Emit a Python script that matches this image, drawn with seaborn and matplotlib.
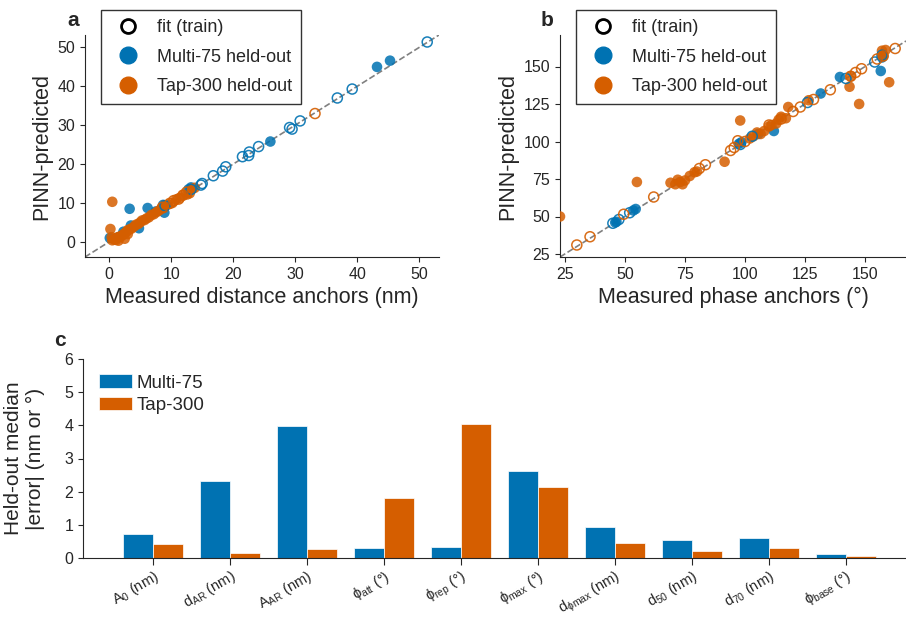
import pandas as pd
import matplotlib.pyplot as plt
import seaborn as sns
from matplotlib.lines import Line2D

BLUE = '#0072B2'
ORANGE = '#D55E00'

# ---- panel a : distance anchors (nm) ----
a_fit_multi_x = [51.3, 39.2, 36.8, 30.8, 29.5, 29.1, 24.1, 22.6, 22.5, 21.5, 18.8, 18.3, 16.8, 15.0, 14.8, 13.2, 9.0]
a_fit_multi_y = [51.4, 39.3, 37.0, 31.1, 29.0, 29.4, 24.5, 23.1, 22.2, 21.9, 19.3, 18.2, 17.0, 15.0, 14.6, 13.5, 9.3]
a_fit_tap_x = [33.2, 8.6, 9.8, 10.4, 11.2, 11.9, 12.5]
a_fit_tap_y = [33.0, 8.9, 9.9, 10.6, 11.0, 12.0, 12.8]
a_ho_multi_x = [43.2, 45.3, 26.0, 0.1, 3.3, 6.2, 8.7, 8.9, 4.8, 3.5, 12.8, 13.2, 1.5, 2.3, 7.5]
a_ho_multi_y = [45.0, 46.6, 25.8, 1.0, 8.5, 8.7, 9.5, 7.5, 3.5, 4.2, 13.5, 14.0, 1.2, 2.6, 7.8]
a_ho_tap_x = [0.5, 0.2, 0.5, 0.8, 1.0, 1.3, 1.6, 2.0, 2.2, 2.5, 2.8, 3.0, 3.3, 3.6, 4.0, 4.3, 4.7,
              5.0, 5.3, 5.7, 6.0, 6.4, 6.8, 7.2, 7.6, 8.0, 8.4, 8.8, 9.5, 10.2, 10.8, 11.4, 12.0,
              12.6, 13.0, 13.4, 13.8, 1.5, 2.5, 3.0, 0.4, 1.1]
a_ho_tap_y = [10.3, 3.3, 0.4, 0.6, 0.9, 1.1, 1.3, 1.5, 1.8, 2.2, 2.6, 3.0, 3.2, 3.4, 3.9, 4.4, 4.6,
              5.0, 5.5, 5.6, 6.0, 6.3, 6.9, 7.1, 7.6, 8.0, 8.5, 8.7, 9.6, 10.0, 10.9, 11.3, 12.1,
              12.2, 12.5, 13.6, 13.9, 0.3, 0.8, 2.0, 1.2, 0.5]

# ---- panel b : phase anchors (deg) ----
b_fit_multi_x = [45.0, 47.5, 52.0, 126.0, 142.0, 154.0, 157.0, 103.0, 98.0]
b_fit_multi_y = [45.5, 48.0, 52.5, 126.0, 142.0, 153.0, 157.5, 103.5, 98.0]
b_fit_tap_x = [30.0, 35.5, 49.5, 62.0, 83.5, 81.0, 94.0, 95.5, 97.0, 100.0, 120.0, 123.0, 128.5,
               135.5, 144.0, 146.0, 148.5, 155.0, 157.5, 162.5, 110.0, 115.0]
b_fit_tap_y = [31.0, 36.5, 51.5, 63.0, 84.5, 82.0, 94.0, 96.0, 100.5, 100.0, 120.0, 123.0, 128.0,
               134.5, 143.5, 146.0, 148.5, 155.0, 157.0, 162.0, 111.0, 115.0]
b_ho_multi_x = [46.0, 46.5, 53.5, 54.5, 97.5, 98.5, 105.5, 112.0, 131.5, 139.5, 156.5, 157.0]
b_ho_multi_y = [46.0, 46.5, 54.0, 55.0, 98.5, 99.5, 105.0, 107.0, 132.0, 143.0, 147.0, 156.0]
b_ho_tap_x = [23.0, 55.0, 69.0, 71.0, 72.0, 73.0, 74.0, 75.0, 77.0, 79.0, 80.0, 91.5, 98.0, 102.0,
              103.5, 105.0, 106.5, 108.0, 110.0, 111.0, 113.0, 114.0, 115.0, 117.0, 118.0, 126.5,
              143.5, 144.0, 147.5, 157.0, 158.5, 160.0, 157.5]
b_ho_tap_y = [50.0, 73.0, 72.5, 71.5, 74.5, 73.0, 71.5, 74.0, 77.0, 79.5, 80.0, 86.5, 114.0, 102.0,
              103.5, 106.0, 105.0, 107.0, 110.0, 111.0, 112.0, 114.5, 116.5, 115.5, 123.0, 127.5,
              136.5, 143.5, 125.0, 160.5, 161.0, 139.5, 157.0]

# ---- panel c : held-out median |error| ----
params = [r'$A_0$ (nm)', r'$d_{AR}$ (nm)', r'$A_{AR}$ (nm)', r'$\phi_{att}$ (°)', r'$\phi_{rep}$ (°)',
          r'$\phi_{max}$ (°)', r'$d_{\phi max}$ (nm)', r'$d_{50}$ (nm)', r'$d_{70}$ (nm)', r'$\phi_{base}$ (°)']
err_multi = [0.72, 2.32, 3.99, 0.30, 0.34, 2.61, 0.94, 0.55, 0.60, 0.12]
err_tap = [0.42, 0.15, 0.27, 1.82, 4.03, 2.13, 0.45, 0.22, 0.30, 0.07]

sns.set_style('ticks')
plt.rcParams['font.family'] = ['Liberation Sans', 'DejaVu Sans']
plt.rcParams['mathtext.default'] = 'regular'

fig = plt.figure(figsize=(9.06, 6.22), dpi=100)
W, H = 906, 622


def box(l, t, r, b):
    return [l / W, 1 - b / H, (r - l) / W, (b - t) / H]


ax_a = fig.add_axes(box(85, 35, 439, 257))
ax_b = fig.add_axes(box(560, 35, 906, 257))
ax_c = fig.add_axes(box(83, 359, 906, 558))


def scatter_panel(ax, fm, ft, hm, ht, lims):
    ax.axline((lims[0], lims[0]), slope=1, color='gray', ls='--', lw=1.2, zorder=1)
    for (x, y), col in ((hm, BLUE), (ht, ORANGE)):
        sns.scatterplot(x=x, y=y, ax=ax, color=col, s=58, alpha=0.85, edgecolor='none', zorder=3)
    for (x, y), col in ((fm, BLUE), (ft, ORANGE)):
        sns.scatterplot(x=x, y=y, ax=ax, facecolor='none', edgecolor=col, color=col,
                        s=52, linewidth=1.1, alpha=0.9, zorder=4)
    ax.set_xlim(lims)
    ax.set_ylim(lims)
    sns.despine(ax=ax)
    ax.tick_params(labelsize=11.5)
    ax.set_ylabel('PINN-predicted', fontsize=15.5)
    handles = [Line2D([], [], ls='', marker='o', mfc='none', mec='black', mew=2, ms=10),
               Line2D([], [], ls='', marker='o', mfc=BLUE, mec=BLUE, ms=12),
               Line2D([], [], ls='', marker='o', mfc=ORANGE, mec=ORANGE, ms=12)]
    leg = ax.legend(handles, ['fit (train)', 'Multi-75 held-out', 'Tap-300 held-out'],
                    loc='upper left', bbox_to_anchor=(0.045, 1.113), borderaxespad=0,
                    fontsize=13, frameon=True, fancybox=False, edgecolor='black',
                    handletextpad=0.6, labelspacing=0.7, borderpad=0.5)
    leg.get_frame().set_linewidth(1.0)
    leg.set_zorder(10)


scatter_panel(ax_a, (a_fit_multi_x, a_fit_multi_y), (a_fit_tap_x, a_fit_tap_y),
              (a_ho_multi_x, a_ho_multi_y), (a_ho_tap_x, a_ho_tap_y), (-3.9, 53.2))
ax_a.set_xticks([0, 10, 20, 30, 40, 50])
ax_a.set_yticks([0, 10, 20, 30, 40, 50])
ax_a.set_xlabel('Measured distance anchors (nm)', fontsize=15.5)

scatter_panel(ax_b, (b_fit_multi_x, b_fit_multi_y), (b_fit_tap_x, b_fit_tap_y),
              (b_ho_multi_x, b_ho_multi_y), (b_ho_tap_x, b_ho_tap_y), (23, 167))
ax_b.set_ylim(23, 171)
ax_b.set_xticks([25, 50, 75, 100, 125, 150])
ax_b.set_yticks([25, 50, 75, 100, 125, 150])
ax_b.set_xlabel('Measured phase anchors (°)', fontsize=15.5)

# ---- bar panel ----
df_c = pd.DataFrame({'param': params * 2,
                     'err': err_multi + err_tap,
                     'set': ['Multi-75'] * len(params) + ['Tap-300'] * len(params)})
sns.barplot(data=df_c, x='param', y='err', hue='set', ax=ax_c,
            palette={'Multi-75': BLUE, 'Tap-300': ORANGE}, width=0.77,
            edgecolor='white', linewidth=0.5, saturation=1)
ax_c.set_xlim(-0.91, 9.78)
ax_c.set_ylim(0, 6)
ax_c.set_yticks(range(7))
sns.despine(ax=ax_c)
ax_c.set_xlabel('')
ax_c.set_ylabel('Held-out median\n|error| (nm or °)', fontsize=15, labelpad=14)
ax_c.tick_params(axis='y', labelsize=11.5)
ax_c.tick_params(axis='x', labelsize=10.5, length=5, pad=2)
for lab in ax_c.get_xticklabels():
    lab.set_rotation(30)
    lab.set_ha('right')
    lab.set_rotation_mode('anchor')
ax_c.legend(loc='upper left', bbox_to_anchor=(0.01, 0.96), frameon=False, fontsize=13.5,
            title=None, handlelength=1.8, handletextpad=0.2, labelspacing=0.3,
            borderaxespad=0)

fig.text(73 / W, 1 - 20 / H, 'a', fontsize=15, fontweight='bold', ha='center', va='center')
fig.text(547 / W, 1 - 20 / H, 'b', fontsize=15, fontweight='bold', ha='center', va='center')
fig.text(60 / W, 1 - 341 / H, 'c', fontsize=15, fontweight='bold', ha='center', va='center')

fig.savefig('out.png', dpi=100)
